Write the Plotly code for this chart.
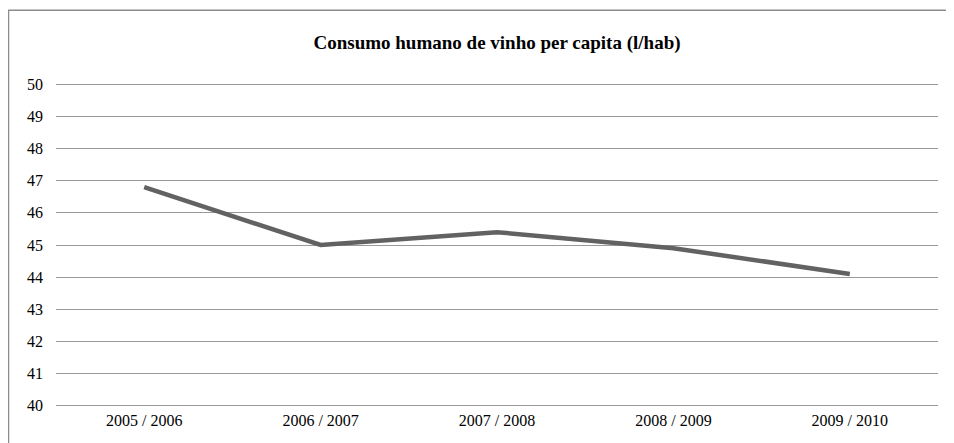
import plotly.graph_objects as go

categories = ["2005 / 2006", "2006 / 2007", "2007 / 2008", "2008 / 2009", "2009 / 2010"]
consumo = [46.8, 45.0, 45.4, 44.9, 44.1]
y_ticks = list(range(40, 51))

# page body margin of 8px offsets the figure; compensate
OFF = 8
W, H = 954 - OFF, 443 - OFF
PX_PER_UNIT = 32.2
PAD = 0.1  # small range padding so the 40 and 50 gridlines are drawn
ml, mr = 56 - OFF, 16
mt = 84 - OFF - PAD * PX_PER_UNIT
mb = 37 - PAD * PX_PER_UNIT
pw, ph = W - ml - mr, H - mt - mb

fig = go.Figure(go.Scatter(
    x=categories, y=consumo, mode="lines",
    line=dict(color="#626262", width=4.5),
    hoverinfo="x+y",
))

def px_to_paper_x(px):
    return (px - OFF - ml) / pw

def px_to_paper_y(py):
    return (H - mb - (py - OFF)) / ph

fig.add_shape(type="rect", xref="paper", yref="paper",
              x0=px_to_paper_x(8.5), x1=px_to_paper_x(970),
              y0=px_to_paper_y(460), y1=px_to_paper_y(10),
              line=dict(color="#8c8c8c", width=1.5), fillcolor="rgba(0,0,0,0)", layer="below")

SERIF = "Liberation Serif, Times New Roman, serif"
fig.update_layout(
    width=W, height=H,
    margin=dict(l=ml, r=mr, t=mt, b=mb),
    paper_bgcolor="white", plot_bgcolor="white",
    font=dict(family=SERIF, size=16, color="#000"),
    title=dict(text="<b>Consumo humano de vinho per capita (l/hab)</b>",
               x=0.5, xanchor="center", xref="paper", y=1 - (42 - OFF) / H, yanchor="middle",
               font=dict(family=SERIF, size=19, color="#000")),
    showlegend=False,
    xaxis=dict(type="category", showgrid=False, showline=False, ticks="",
               tickfont=dict(family=SERIF, size=16, color="#000"), range=[-0.5, 4.5]),
    yaxis=dict(range=[40 - PAD, 50 + PAD], tickvals=y_ticks, showgrid=True, gridcolor="#999999",
               gridwidth=1, zeroline=False, showline=False, ticks="",
               tickfont=dict(family=SERIF, size=16, color="#000"), ticklabelstandoff=12),
)

fig.write_html("out.html")
